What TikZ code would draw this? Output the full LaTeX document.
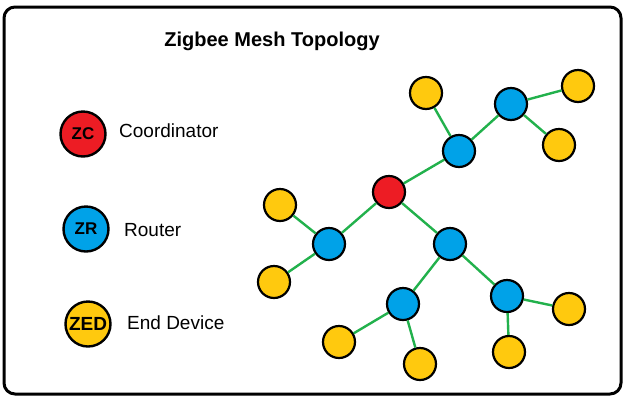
\documentclass[tikz,border=0pt]{standalone}
\usepackage{fontspec}
\setmainfont{Liberation Sans}
\usetikzlibrary{positioning}
\definecolor{zcred}{RGB}{237, 28, 36}
\definecolor{zrblue}{RGB}{0, 162, 232}
\definecolor{zedyellow}{RGB}{255, 201, 14}
\definecolor{linkgreen}{RGB}{34, 177, 76}
\tikzset{dev/.style = {draw, circle, line width = 2.2, minimum size = 32, inner sep = 0}}
\tikzset{zc/.style = {dev, fill = zcred}}
\tikzset{zr/.style = {dev, fill = zrblue}}
\tikzset{zed/.style = {dev, fill = zedyellow}}
\tikzset{key/.style = {minimum size = 45, line width = 2.4}}
\tikzset{keytext/.style = {anchor = west, inner sep = 0, font = \fontsize{19}{22}\selectfont}}
\tikzset{link/.style = {draw = linkgreen, line width = 2.4}}

\begin{document}
\begin{tikzpicture}[x = 1pt, y = -1pt]
      \useasboundingbox (0, 0) rectangle (629, 400);
      \draw [line width = 3, rounded corners = 11] (4, 7) rectangle (621, 394);

      \node [font = \fontsize{20}{24}\selectfont\bfseries] (title) at (272, 41) {Zigbee Mesh Topology};

      \node [zc, key] (keyzc) at (83, 134) {\fontsize{17}{20}\selectfont\bfseries ZC};
      \node [zr, key] (keyzr) at (86, 229) {\fontsize{17}{20}\selectfont\bfseries ZR};
      \node [zed, key] (keyzed) at (88, 324) {\fontsize{19}{22}\selectfont\bfseries ZED};
      \node [keytext] (keyzctext) at (119, 131) {Coordinator};
      \node [keytext] (keyzrtext) at (124, 230) {Router};
      \node [keytext] (keyzedtext) at (127, 323) {End Device};

      \node [zc] (coord) at (389, 192) {};
      \node [zr] (ra) at (459, 151) {};
      \node [zr] (rb) at (511, 104) {};
      \node [zr] (rc) at (329, 244) {};
      \node [zr] (rd) at (450, 244) {};
      \node [zr] (re) at (403, 304) {};
      \node [zr] (rf) at (507, 296) {};
      \node [zed] (ea) at (426, 93) {};
      \node [zed] (eb) at (578, 86) {};
      \node [zed] (ec) at (559, 145) {};
      \node [zed] (ed) at (280, 205) {};
      \node [zed] (ee) at (274, 282) {};
      \node [zed] (ef) at (339, 342) {};
      \node [zed] (eg) at (420, 364) {};
      \node [zed] (eh) at (509, 352) {};
      \node [zed] (ei) at (569, 309) {};

      \foreach \a/\b in {coord/ra, ra/ea, ra/rb, rb/eb, rb/ec, coord/rc, rc/ed, rc/ee,
                         coord/rd, rd/re, rd/rf, re/ef, re/eg, rf/eh, rf/ei}
        \draw [link] (\a) -- (\b);
    \end{tikzpicture}
\end{document}
